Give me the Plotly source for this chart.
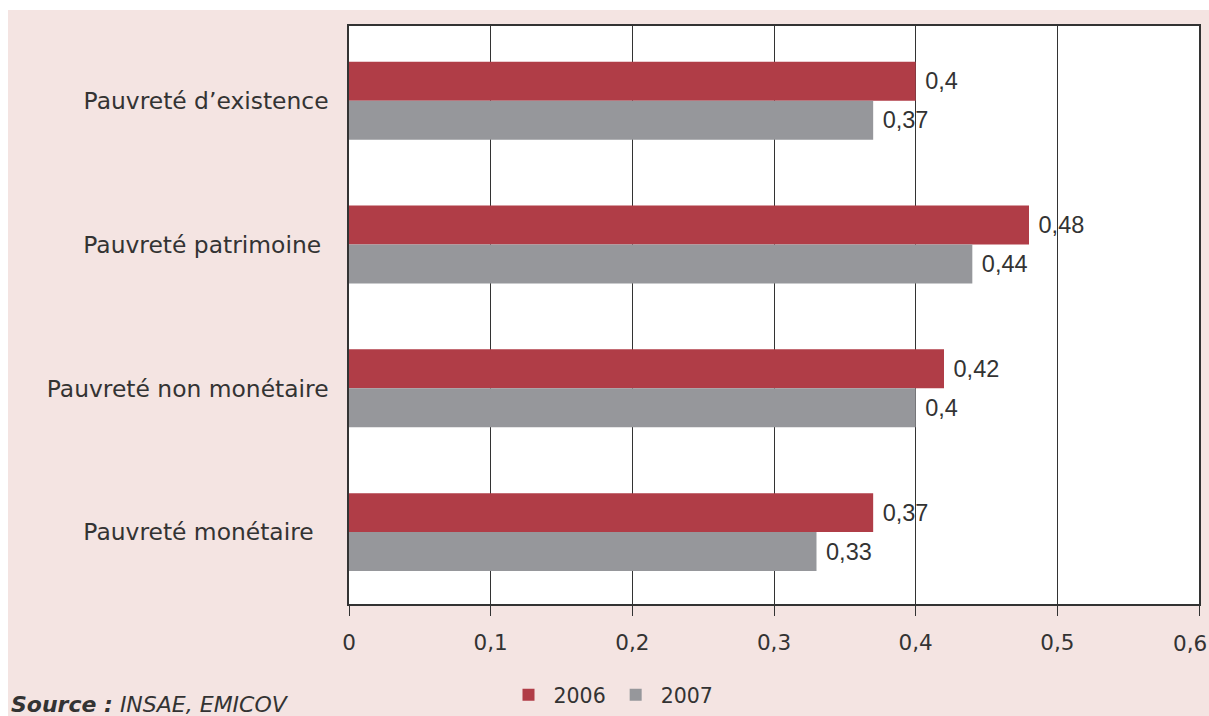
import plotly.graph_objects as go

# Poverty indicators by type, 2006 vs 2007
categories = [
    "Pauvreté d’existence",
    "Pauvreté patrimoine",
    "Pauvreté non monétaire",
    "Pauvreté monétaire",
]
values_2006 = [0.40, 0.48, 0.42, 0.37]
values_2007 = [0.37, 0.44, 0.40, 0.33]
x_ticks = [0, 0.1, 0.2, 0.3, 0.4, 0.5, 0.6]
x_tick_labels = ["0", "0,1", "0,2", "0,3", "0,4", "0,5", "0,6"]

RED = "#B03D47"
GREY = "#96979B"
PINK = "#F4E4E2"
INK = "#333333"
FONT = "DejaVu Sans"
NUM_FONT = "Liberation Sans"
NBSP = "\u00a0"
TICK_SIZE = 21.5

# trailing padding per category label (as typeset in the source layout)
label_pad = [0, 1, 0, 2]
category_text = [c + NBSP * n for c, n in zip(categories, label_pad)]

fig = go.Figure()
for name, vals, color in (("2006", values_2006, RED), ("2007", values_2007, GREY)):
    fig.add_trace(go.Bar(
        name=name, y=categories, x=vals, orientation="h",
        marker=dict(color=color, line=dict(width=0)),
        texttemplate=NBSP + "%{x}", textposition="outside", cliponaxis=False,
        textfont=dict(family=NUM_FONT, size=23.5, color=INK),
    ))

W, H = 1209, 716
L, R, T, B = 349, 10, 26, 112
pw, ph = W - L - R, H - T - B

def px_x(p):
    return (p - L) / pw

def px_y(p):
    return (H - B - p) / ph

# the last tick label sits at the panel edge, so it is nudged inward
axis_tick_text = x_tick_labels[:-1] + [""]
edge_label = dict(
    text=x_tick_labels[-1], xref="x", yref="paper",
    x=x_ticks[-1], y=px_y(643), xshift=-9,
    xanchor="center", yanchor="middle", showarrow=False,
    font=dict(family=FONT, size=TICK_SIZE, color=INK),
)

fig.update_layout(
    width=W, height=H,
    margin=dict(l=L, r=R, t=T, b=B, autoexpand=False),
    paper_bgcolor=PINK, plot_bgcolor="white",
    separators=", ",
    barmode="group", bargap=0.458, bargroupgap=0,
    font=dict(family=FONT, size=20, color=INK),
    showlegend=True,
    legend=dict(
        orientation="h", x=px_x(611), xanchor="center",
        y=px_y(695), yanchor="middle",
        font=dict(family=FONT, size=20.5, color=INK),
        bgcolor="rgba(0,0,0,0)", itemwidth=40,
    ),
    xaxis=dict(
        range=[0, 0.6], tickvals=x_ticks, ticktext=axis_tick_text,
        showgrid=True, gridcolor=INK, gridwidth=1,
        showline=True, linecolor=INK, linewidth=1.5, mirror=True,
        ticks="outside", ticklen=10, tickcolor=INK,
        ticklabelstandoff=8, zeroline=False,
        automargin=False,
        tickfont=dict(family=FONT, size=TICK_SIZE, color=INK),
        fixedrange=True,
    ),
    yaxis=dict(
        range=[3.5, -0.52], tickvals=categories, ticktext=category_text,
        showgrid=False, automargin=False,
        showline=True, linecolor=INK, linewidth=1.5, mirror=True,
        ticks="", ticklabelstandoff=14,
        tickfont=dict(family=FONT, size=23.4, color=INK),
        fixedrange=True,
    ),
    shapes=[
        # white margin strips around the tinted panel
        dict(type="rect", xref="paper", yref="paper", layer="above",
             x0=px_x(-5), x1=px_x(W + 5), y0=px_y(10), y1=px_y(-5),
             fillcolor="white", line=dict(width=0)),
        dict(type="rect", xref="paper", yref="paper", layer="above",
             x0=px_x(-5), x1=px_x(8), y0=px_y(H + 5), y1=px_y(-5),
             fillcolor="white", line=dict(width=0)),
    ],
    annotations=[
        edge_label,
        dict(text="<b><i>Source :</i></b><i> INSAE, EMICOV</i>",
             xref="paper", yref="paper", x=px_x(9), y=px_y(704),
             xanchor="left", yanchor="middle", showarrow=False,
             font=dict(family=FONT, size=22, color=INK)),
    ],
)

fig.write_html("out.html")
